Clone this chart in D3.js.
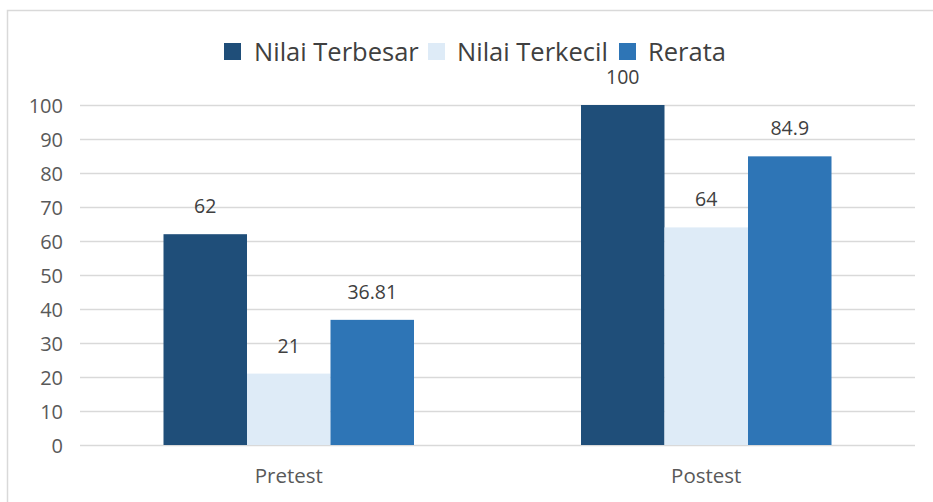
<!DOCTYPE html>
<html><head><meta charset="utf-8">
<script src="https://cdn.jsdelivr.net/npm/d3@7"></script>
<style>body{margin:0;background:#fff}svg{display:block}</style>
</head><body>
<script>
const categories = ["Pretest", "Postest"];
const seriesNames = ["Nilai Terbesar", "Nilai Terkecil", "Rerata"];
const nilaiTerbesar = [62, 100];
const nilaiTerkecil = [21, 64];
const rerata = [36.81, 84.9];
const labelText = [["62", "100"], ["21", "64"], ["36.81", "84.9"]];
const yTicks = [0, 10, 20, 30, 40, 50, 60, 70, 80, 90, 100];
const colors = ["#1F4E79", "#DEEBF7", "#2E75B6"];
const seriesValues = [nilaiTerbesar, nilaiTerkecil, rerata];

(function(){
const W = 933, H = 502;
const svg = d3.select("body").append("svg").attr("width", W).attr("height", H);
const font = "'Open Sans', sans-serif";

// border
svg.append("path").attr("d", `M7.5,${H} V10.5 H${W}`).attr("fill", "none").attr("stroke", "#d9d9d9").attr("stroke-width", 1.5);

const pLeft = 80, pRight = 915, pTop = 105, pBottom = 445;
const y = d3.scaleLinear().domain([0, 100]).range([pBottom, pTop]);
const x0 = d3.scaleBand().domain(categories).range([pLeft, pRight]).paddingInner(0.4).paddingOuter(0.2);
const x1 = d3.scaleBand().domain(d3.range(3)).range([0, x0.bandwidth()]);

// gridlines
svg.append("g").selectAll("line").data(yTicks).join("line")
  .attr("x1", pLeft).attr("x2", pRight)
  .attr("y1", d => Math.round(y(d)) + 0.5).attr("y2", d => Math.round(y(d)) + 0.5)
  .attr("stroke", "#d9d9d9").attr("stroke-width", 1.5);

// y axis labels
const yAxis = d3.axisLeft(y).tickValues(yTicks).tickSize(0).tickPadding(0);
const ya = svg.append("g").attr("transform", `translate(63,0)`).call(yAxis);
ya.select(".domain").remove();
ya.selectAll("text").attr("font-family", font).attr("font-size", 20).attr("fill", "#595959").attr("dy", "0.35em");

// bars
const data = [];
categories.forEach((c, ci) => seriesValues.forEach((vals, si) => data.push({c, si, v: vals[ci], label: labelText[si][ci]})));
svg.append("g").selectAll("rect").data(data).join("rect")
  .attr("x", d => x0(d.c) + x1(d.si))
  .attr("width", x1.bandwidth())
  .attr("y", d => y(d.v))
  .attr("height", d => pBottom - y(d.v))
  .attr("fill", d => colors[d.si]);

// data labels
svg.append("g").selectAll("text").data(data).join("text")
  .attr("x", d => x0(d.c) + x1(d.si) + x1.bandwidth() / 2)
  .attr("y", d => y(d.v) - 21)
  .attr("text-anchor", "middle")
  .attr("font-family", font).attr("font-size", 19.5).attr("fill", "#404040")
  .text(d => d.label);

// x axis
const xAxis = d3.axisBottom(x0).tickSize(0).tickPadding(0);
const xa = svg.append("g").attr("transform", `translate(0,${pBottom})`).call(xAxis);
xa.select(".domain").remove();
xa.selectAll("text").attr("font-family", font).attr("font-size", 20.5).attr("fill", "#595959").attr("dy", 0).attr("y", 38);

// legend
const lg = svg.append("g");
const items = [{x: 224, tx: 254}, {x: 428, tx: 457}, {x: 619, tx: 648}];
seriesNames.forEach((n, i) => {
  lg.append("rect").attr("x", items[i].x).attr("y", 43).attr("width", 17).attr("height", 17).attr("fill", colors[i]);
  lg.append("text").attr("x", items[i].tx).attr("y", 61).attr("font-family", font).attr("font-size", 25.5).attr("fill", "#404040").text(n);
});
})();
</script>
</body></html>
